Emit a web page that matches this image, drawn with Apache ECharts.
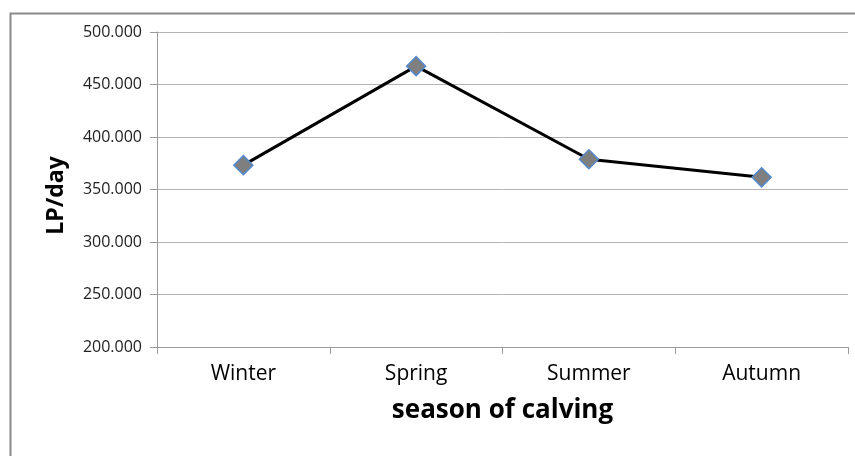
<!DOCTYPE html>
<html>
<head>
<meta charset="utf-8">
<script src="https://cdn.jsdelivr.net/npm/echarts@6/dist/echarts.min.js"></script>
<style>
  html, body { margin: 0; padding: 0; background: #fff; }
  #chart { width: 855px; height: 456px; }
</style>
</head>
<body>
<div id="chart"></div>
<script>
// data
const seasons = ["Winter", "Spring", "Summer", "Autumn"];
const lpPerDay = [373.2, 467.5, 378.8, 361.6];
const yTicks = { min: 200, max: 500, step: 50 };

const chart = echarts.init(document.getElementById("chart"));

const option = {
  backgroundColor: "#fff",
  animation: false,
  // outer frame (only left and top edges are visible in the picture)
  graphic: [
    {
      type: "rect",
      shape: { x: 10.5, y: 13.5, width: 900, height: 500 },
      style: { fill: "none", stroke: "#8a8a8a", lineWidth: 2 },
    },
  ],
  grid: { left: 157, right: 7, top: 32, bottom: 109 },
  xAxis: {
    type: "category",
    data: seasons,
    boundaryGap: true,
    name: "season of calving",
    nameLocation: "middle",
    nameGap: 51,
    nameTextStyle: {
      fontFamily: "Open Sans",
      fontWeight: "bold",
      fontSize: 26,
      color: "#000",
    },
    axisLine: { lineStyle: { color: "#9a9a9a", width: 1 } },
    axisTick: {
      show: true,
      alignWithLabel: false,
      length: 7,
      lineStyle: { color: "#9a9a9a" },
    },
    axisLabel: {
      fontFamily: "Open Sans",
      fontSize: 21,
      color: "#000",
      margin: 17,
    },
  },
  yAxis: {
    type: "value",
    min: yTicks.min,
    max: yTicks.max,
    interval: yTicks.step,
    name: "LP/day",
    nameLocation: "middle",
    nameGap: 89,
    nameTextStyle: {
      fontFamily: "Open Sans",
      fontWeight: "bold",
      fontSize: 23,
      color: "#000",
      padding: [0, 12, 0, 0],
    },
    axisLine: { show: true, lineStyle: { color: "#9a9a9a", width: 1 } },
    axisTick: { show: true, length: 7, lineStyle: { color: "#9a9a9a" } },
    axisLabel: {
      fontFamily: "Open Sans",
      fontSize: 16,
      color: "#222",
      margin: 15,
      formatter: (v) => v.toFixed(3),
    },
    splitLine: { lineStyle: { color: "#b4b4b4", width: 1 } },
  },
  series: [
    {
      type: "line",
      data: lpPerDay,
      symbol: "diamond",
      symbolSize: 19,
      lineStyle: { color: "#000", width: 3 },
      itemStyle: { color: "#7f7f7f", borderColor: "#5588c8", borderWidth: 1.5 },
    },
  ],
};

chart.setOption(option);
</script>
</body>
</html>
